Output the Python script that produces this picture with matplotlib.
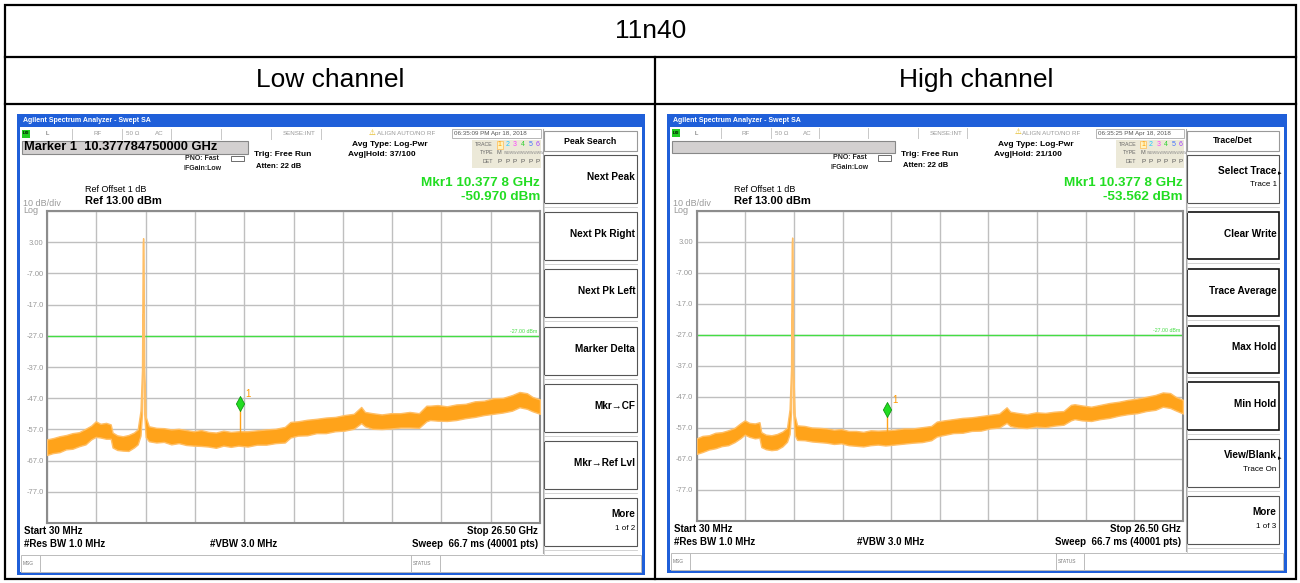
import matplotlib
matplotlib.use("Agg")
import matplotlib.pyplot as plt
from matplotlib.patches import Rectangle

plt.rcParams["font.family"] = ["Liberation Sans", "DejaVu Sans"]

# ---- data -------------------------------------------------------------
table_title = "11n40"
channel_names = ["Low channel", "High channel"]

start_ghz, stop_ghz = 0.03, 26.5
ref_level = 13.0
db_per_div = 10
display_line = -27.0
y_labels = ["", "3.00", "-7.00", "-17.0", "-27.0", "-37.0",
            "-47.0", "-57.0", "-67.0", "-77.0", ""]

mkr_freq = [10.37778475, 10.37778475]
mkr_level = [-50.970, -53.562]
mkr_header = ["Marker 1  10.377784750000 GHz", ""]
clock = ["06:35:09 PM Apr 18, 2018", "06:35:25 PM Apr 18, 2018"]
avg_hold = ["Avg|Hold: 37/100", "Avg|Hold: 21/100"]
menu_title = ["Peak Search", "Trace/Det"]
menu_keys = [
    [("Next Peak", "", False), ("Next Pk Right", "", False), ("Next Pk Left", "", False),
     ("Marker Delta", "", False), ("Mkr\u2192CF", "", False), ("Mkr\u2192Ref Lvl", "", False),
     ("More", "1 of 2", False)],
    [("Select Trace", "Trace 1", True), ("Clear Write", "", False), ("Trace Average", "", False),
     ("Max Hold", "", False), ("Min Hold", "", False), ("View/Blank", "Trace On", True),
     ("More", "1 of 3", False)],
]

# trace envelopes (GHz, dBm)
low_freq = [0.03, 0.35, 0.7, 1.05, 1.4, 1.75, 2.1, 2.4, 2.65, 2.9, 3.2, 3.45, 3.55, 3.8,
            4.1, 4.4, 4.7, 4.9, 5.05, 5.13, 5.17, 5.19, 5.21, 5.25, 5.33, 5.5, 5.9, 6.3,
            6.7, 7.1, 7.5, 7.9, 8.3, 8.7, 9.1, 9.5, 9.9, 10.3, 10.8, 11.3, 11.8, 12.3,
            12.8, 13.1, 13.5, 14.0, 14.5, 15.0, 15.5, 16.0, 16.5, 16.9, 17.1, 17.5, 18.0,
            18.5, 19.0, 19.5, 20.0, 20.4, 20.6, 21.0, 21.5, 22.0, 22.5, 23.0, 23.5, 24.0,
            24.5, 25.0, 25.4, 25.8, 26.1, 26.5]
low_lower = [-65.2, -64.6, -64.3, -63.4, -63.2, -62.4, -61.8, -60.2, -59.4, -59.6, -60.0,
             -60.0, -62.8, -63.6, -63.8, -63.9, -62.8, -61.8, -59.0, -52.0, -30.0, -20.0,
             -30.0, -52.0, -59.5, -60.8, -61.2, -61.0, -61.8, -61.4, -62.0, -62.2, -62.3,
             -62.5, -62.9, -62.2, -62.6, -62.2, -62.5, -61.9, -61.9, -61.4, -61.2, -59.6,
             -59.0, -58.9, -58.2, -58.2, -57.6, -57.4, -56.8, -55.0, -56.0, -56.8, -56.9,
             -56.7, -56.4, -56.4, -56.5, -54.4, -54.0, -54.2, -54.3, -54.0, -53.4, -53.0,
             -52.4, -52.0, -51.6, -51.0, -49.9, -50.4, -51.2, -52.0]
low_upper = [-60.2, -59.8, -59.2, -58.8, -58.2, -57.9, -56.8, -55.8, -54.4, -55.2, -54.9,
             -55.4, -58.0, -58.9, -59.2, -58.8, -58.0, -57.0, -51.0, -38.0, 2.5, 4.3,
             2.5, -38.0, -53.0, -56.0, -56.5, -56.6, -57.0, -56.8, -57.2, -57.6, -57.2,
             -57.8, -58.0, -57.4, -57.8, -57.6, -57.6, -57.3, -57.0, -56.8, -56.2, -54.6,
             -54.4, -53.9, -53.6, -53.2, -53.0, -52.4, -52.0, -49.8, -51.4, -51.8, -52.2,
             -51.8, -51.8, -51.4, -51.8, -49.4, -49.4, -49.2, -49.6, -49.0, -48.8, -48.0,
             -47.8, -47.0, -46.9, -46.0, -45.0, -45.4, -46.6, -47.4]

high_freq = [0.03, 0.35, 0.7, 1.05, 1.4, 1.75, 2.1, 2.4, 2.65, 2.9, 3.2, 3.45, 3.55, 3.8,
             4.1, 4.4, 4.7, 4.95, 5.09, 5.17, 5.21, 5.23, 5.25, 5.29, 5.37, 5.5, 5.9, 6.3,
             6.7, 7.1, 7.5, 7.9, 8.3, 8.7, 9.1, 9.5, 9.9, 10.3, 10.8, 11.3, 11.8, 12.3,
             12.8, 13.1, 13.5, 14.0, 14.5, 15.0, 15.5, 16.0, 16.5, 16.9, 17.1, 17.5, 18.0,
             18.5, 19.0, 19.5, 20.0, 20.4, 20.6, 21.0, 21.5, 22.0, 22.5, 23.0, 23.5, 24.0,
             24.5, 25.0, 25.4, 25.8, 26.1, 26.5]
high_lower = [-65.4, -64.8, -64.0, -63.6, -62.9, -62.6, -61.6, -60.4, -59.2, -59.9, -60.4,
              -60.2, -63.2, -63.9, -64.2, -64.0, -63.0, -61.5, -59.0, -52.0, -30.0, -20.0,
              -30.0, -52.0, -59.4, -60.9, -61.0, -61.4, -61.6, -61.8, -62.2, -62.0, -62.6,
              -62.8, -63.0, -62.6, -62.4, -62.7, -62.4, -62.1, -61.8, -61.6, -61.0, -59.8,
              -59.3, -58.7, -58.6, -58.0, -57.9, -57.2, -56.9, -55.4, -56.4, -56.9, -57.1,
              -56.6, -56.8, -56.3, -56.0, -54.6, -54.2, -54.6, -54.8, -54.2, -53.8, -53.1,
              -52.6, -52.3, -51.6, -51.2, -50.2, -50.6, -51.4, -52.4]
high_upper = [-60.4, -59.6, -59.4, -58.6, -58.4, -57.8, -57.0, -55.6, -54.6, -55.4, -55.6,
              -55.2, -58.4, -59.2, -59.4, -59.0, -58.2, -57.0, -51.0, -38.0, 2.5, 4.3,
              2.5, -38.0, -53.0, -56.2, -56.4, -56.9, -57.0, -57.2, -57.6, -57.4, -58.0,
              -58.0, -58.3, -57.8, -57.9, -57.8, -57.6, -57.2, -57.2, -56.8, -56.4, -55.0,
              -54.6, -54.2, -53.8, -53.6, -53.2, -52.8, -52.4, -50.4, -51.8, -52.2, -52.6,
              -52.0, -52.2, -51.8, -51.6, -49.6, -49.4, -49.8, -50.2, -49.6, -49.0, -48.6,
              -48.0, -47.6, -47.0, -46.4, -45.6, -45.8, -47.0, -48.0]

traces = [(low_freq, low_lower, low_upper), (high_freq, high_lower, high_upper)]

# ---- figure -----------------------------------------------------------
W, H = 1300, 583
fig = plt.figure(figsize=(13, 5.83), dpi=100, facecolor="white")
bg = fig.add_axes([0, 0, 1, 1])
bg.set_xlim(0, W)
bg.set_ylim(H, 0)
bg.axis("off")

# table grid
bg.add_patch(Rectangle((5, 5), 1291, 574, fill=False, ec="black", lw=1.6))
bg.plot([5, 1296], [57, 57], color="black", lw=1.6)
bg.plot([5, 1296], [104, 104], color="black", lw=1.6)
bg.plot([655, 655], [57, 579], color="black", lw=1.6)
bg.text(651, 31, table_title, ha="center", va="center", fontsize=19)
bg.text(330, 80, channel_names[0], ha="center", va="center", fontsize=19)
bg.text(976, 80, channel_names[1], ha="center", va="center", fontsize=19)

BLUE = "#1f5fd9"
GREEN = "#22dd22"
ORANGE = "#ffa31a"
trace_colors = ["#ffa000", "#20c8ff", "#ff40ff", "#30d030", "#4070ff", "#a040ff"]


def draw_screen(k, x0, sx, sy):
    def X(x):
        return x0 + (x - 17) * sx

    def Y(y):
        return 112 + (y - 112) * sy

    def box(xa, ya, xb, yb, **kw):
        kw.setdefault("lw", 0)
        bg.add_patch(Rectangle((X(xa), Y(ya)), X(xb) - X(xa), Y(yb) - Y(ya), **kw))

    def txt(x, y, s, **kw):
        kw.setdefault("va", "center")
        bg.text(X(x), Y(y), s, **kw)

    def vline(x, ya, yb, **kw):
        bg.plot([X(x), X(x)], [Y(ya), Y(yb)], **kw)

    # window frame
    box(17, 114, 645, 127, fc=BLUE)
    txt(23, 120.5, "Agilent Spectrum Analyzer - Swept SA", color="white",
        fontsize=5, fontweight="bold")
    box(17, 114, 20, 575, fc=BLUE)
    box(642, 114, 645, 575, fc=BLUE)
    box(17, 572, 645, 575, fc=BLUE)

    # status row
    box(22, 129.5, 30, 137.5, fc="#22cc22")
    txt(26, 133.5, "LXI", fontsize=3, ha="center", fontweight="bold")
    for sep in [72, 122, 171, 221, 271, 321]:
        vline(sep, 128.5, 138.5, color="#c8c8c8", lw=0.7)
    txt(45, 133.5, "L", fontsize=4.5, color="#555555")
    txt(93, 133.5, "RF", fontsize=4.5, color="#999999")
    txt(126, 133.5, "50 \u03a9", fontsize=4.5, color="#999999")
    txt(155, 133.5, "AC", fontsize=4.5, color="#999999")
    txt(283, 133.5, "SENSE:INT", fontsize=4.5, color="#999999")
    txt(369, 133, "\u26a0", fontsize=5.5, color="#e0b000")
    txt(377, 133.5, "ALIGN AUTO/NO RF", fontsize=4.5, color="#999999")
    box(452, 129, 541, 138, fill=False, ec="#aaaaaa", lw=0.6)
    txt(454, 133.5, clock[k], fontsize=4.5, color="#555555")

    # marker header and settings
    box(22, 141, 248, 153.5, fc="#d3d0d0", ec="#888888", lw=0.8)
    txt(24, 147.5, mkr_header[k], fontsize=9.3, fontweight="bold")
    txt(185, 158, "PNO: Fast", fontsize=5, fontweight="bold", color="#222222")
    txt(183, 168, "IFGain:Low", fontsize=5, fontweight="bold", color="#222222")
    box(231, 155.5, 244, 161, fill=False, ec="#555555", lw=0.6)
    txt(254, 155, "Trig: Free Run", fontsize=6, fontweight="bold")
    txt(256, 166, "Atten: 22 dB", fontsize=5.5, fontweight="bold")
    txt(352, 144.5, "Avg Type: Log-Pwr", fontsize=6, fontweight="bold")
    txt(348, 155, avg_hold[k], fontsize=6, fontweight="bold")

    # trace table
    box(472, 140, 541, 168, fc="#ece9d8")
    txt(493, 144.5, "TRACE", fontsize=3.8, color="#666666", ha="right")
    txt(493, 153, "TYPE", fontsize=3.8, color="#666666", ha="right")
    txt(493, 161.5, "DET", fontsize=3.8, color="#666666", ha="right")
    box(496.5, 140.8, 503, 148.5, fc="#fff3c0", ec="#ffbb55", lw=0.5)
    for j, c in enumerate(trace_colors):
        txt(499.8 + j * 7.6, 144.7, str(j + 1), fontsize=5, color=c, ha="center")
        txt(499.8 + j * 7.6, 161.5, "P", fontsize=4.5, color="#555555", ha="center")
    txt(496.5, 153, "M", fontsize=4, color="#666666")
    txt(503.5, 153, "WWWWWWWWWWWW", fontsize=2.6, color="#888888")

    # marker readout and reference
    mf = f"{mkr_freq[k]:.4f}"
    txt(540, 183, f"Mkr1 {mf[:-1]} {mf[-1]} GHz", fontsize=9.7, fontweight="bold",
        color=GREEN, ha="right")
    txt(540, 197.5, f"{mkr_level[k]:.3f} dBm", fontsize=9.7, fontweight="bold",
        color=GREEN, ha="right")
    txt(85, 190, "Ref Offset 1 dB", fontsize=6.5)
    txt(85, 201, f"Ref {ref_level:.2f} dBm", fontsize=8, fontweight="bold")
    txt(23, 203.5, f"{db_per_div} dB/div", fontsize=6.5, color="#999999")
    txt(23, 210.5, "Log", fontsize=6.5, color="#999999")

    # bottom annotations
    txt(24, 531.5, "Start 30 MHz", fontsize=7, fontweight="bold")
    txt(24, 544, "#Res BW 1.0 MHz", fontsize=7, fontweight="bold")
    txt(210, 544, "#VBW 3.0 MHz", fontsize=7, fontweight="bold")
    txt(538, 531.5, f"Stop {stop_ghz:.2f} GHz", fontsize=7, fontweight="bold", ha="right")
    txt(538, 544, "Sweep  66.7 ms (40001 pts)", fontsize=7, fontweight="bold", ha="right")
    box(21, 555, 641, 572, fill=False, ec="#bbbbbb", lw=0.7)
    for sep in [40, 411, 440]:
        vline(sep, 555, 572, color="#bbbbbb", lw=0.7)
    txt(23, 563.5, "MSG", fontsize=3.5, color="#777777")
    txt(413, 563.5, "STATUS", fontsize=3.5, color="#777777")

    # softkey menu
    vline(543, 129, 553, color="#aaaaaa", lw=0.8)
    box(544, 131, 637, 151, fill=False, ec="#999999", lw=0.8)
    txt(590.5, 141, menu_title[k], fontsize=6.3, fontweight="bold", ha="center")
    for j, (label, sub, arrow) in enumerate(menu_keys[k]):
        top = 155 + j * 57.2
        dark = k == 1 and 1 <= j <= 4
        box(544, top, 637, top + 48, fill=False, ec="#111111" if dark else "#555555",
            lw=1.2 if dark else 0.8)
        vline(544, top + 48, top + 57.2, color="#cccccc", lw=0.6)
        bg.plot([X(544), X(637)], [Y(top + 52), Y(top + 52)], color="#cccccc", lw=0.6)
        if sub:
            txt(635, top + 16, label, fontsize=7.2, fontweight="bold", ha="right")
            txt(635, top + 30, sub, fontsize=5.8, ha="right")
        else:
            txt(635, top + 22, label, fontsize=7.2, fontweight="bold", ha="right")
        if arrow:
            txt(636, top + 19, "\u25b8", fontsize=5, ha="left")

    # spectrum graticule
    left, right, top, bottom = X(47), X(540), Y(211), Y(523)
    ax = fig.add_axes([left / W, 1 - bottom / H, (right - left) / W, (bottom - top) / H])
    ax.set_xlim(start_ghz, stop_ghz)
    ax.set_ylim(ref_level - 10 * db_per_div, ref_level)
    span = stop_ghz - start_ghz
    ax.set_xticks([start_ghz + span * i / 10 for i in range(11)])
    ax.set_xticklabels([])
    ax.set_yticks([ref_level - db_per_div * i for i in range(11)], y_labels)
    ax.tick_params(length=0)
    ax.tick_params(axis="y", pad=2.5, labelsize=5.5, labelcolor="#999999")
    ax.grid(True, color="#bfbfbf", lw=1)
    ax.set_axisbelow(True)
    for s in ax.spines.values():
        s.set_color("#8c8c8c")
        s.set_linewidth(1.5)

    ax.axhline(display_line, color="#44dd44", lw=1, zorder=2)
    ax.text(stop_ghz - 0.15, display_line + 0.6, f"{display_line:.2f} dBm", fontsize=3.8,
            color="#44dd44", ha="right", va="bottom")

    freq, lower, upper = traces[k]
    ax.fill_between(freq, lower, upper, color=ORANGE, lw=1.0, ec="#ffbf66", zorder=3)

    # marker 1 on the harmonic
    ax.plot([mkr_freq[k], mkr_freq[k]], [-59.0, mkr_level[k]], color=ORANGE, lw=1, zorder=3)
    diamond = [(0, 0), (-0.55, 1), (0, 2), (0.55, 1), (0, 0)]
    ax.plot(mkr_freq[k], mkr_level[k], marker=diamond, markersize=21.6, color=GREEN,
            mec="#119911", mew=0.6, zorder=4)
    ax.annotate("1", (mkr_freq[k], mkr_level[k]), xytext=(4, 12), textcoords="offset points",
                fontsize=7, color="#ff9900", va="center")


draw_screen(0, 17, 1.0, 1.0)
draw_screen(1, 667, 0.9866, 0.995)

fig.savefig("out.png", dpi=100, facecolor="white")
